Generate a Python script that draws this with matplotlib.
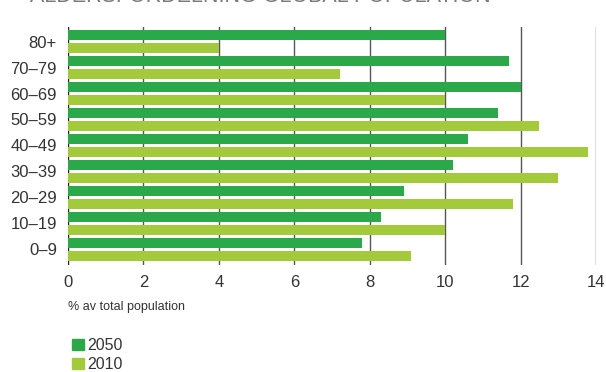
import numpy as np
import matplotlib
matplotlib.use("Agg")
import matplotlib.pyplot as plt
from matplotlib.patches import Patch

# Age groups, bottom to top
age_groups = ["0\u20139", "10\u201319", "20\u201329", "30\u201339", "40\u201349",
              "50\u201359", "60\u201369", "70\u201379", "80+"]
share_2050 = [7.8, 8.3, 8.9, 10.2, 10.6, 11.4, 12.0, 11.7, 10.0]
share_2010 = [9.1, 10.0, 11.8, 13.0, 13.8, 12.5, 10.0, 7.2, 4.0]
x_ticks = [0, 2, 4, 6, 8, 10, 12, 14]

title = "ÅLDERSFÖRDELNING GLOBAL POPULATION"
xlabel = "% av total population"

dark_green = "#2ba84a"
light_green = "#a3ca3a"
text_color = "#333333"

plt.rcParams["font.family"] = ["Liberation Sans", "DejaVu Sans"]

fig = plt.figure(figsize=(6.06, 3.72), dpi=100)
W, H = 606, 372
ax = fig.add_axes([68 / W, 1 - 265 / H, 528 / W, 238 / H])

y = np.arange(len(age_groups))
h = 0.385
ax.barh(y + 0.245, share_2050, height=h, color=dark_green, zorder=3)
ax.barh(y - 0.245, share_2010, height=h, color=light_green, zorder=3)

ax.set_xlim(0, 14)
ax.set_ylim(-0.6, 8.56)
for t in x_ticks:
    ax.axvline(t, color="#555555" if t else "#222222", lw=1.0, zorder=1)

for s in ax.spines.values():
    s.set_visible(False)

ax.set_yticks(y)
ax.set_yticklabels(age_groups)
ax.set_xticks(x_ticks)
ax.tick_params(axis="both", length=0, labelsize=12, colors=text_color)
ax.tick_params(axis="y", pad=8)
ax.tick_params(axis="x", pad=7)

fig.text(68 / W, 1 - 307 / H, xlabel, fontsize=9, color=text_color,
         ha="left", va="center")

# title sits mostly above the canvas, as in the source
fig.text(30 / W, 1 + 3 / H, title, fontsize=15.5, color="#7a7a7a",
         ha="left", va="center")

handles = [Patch(color=dark_green, label="2050"),
           Patch(color=light_green, label="2010")]
fig.legend(handles=handles, loc="upper left", bbox_to_anchor=(64 / W, 1 - 330 / H),
           frameon=False, fontsize=11.5, handlelength=0.75, handleheight=0.75,
           handletextpad=0.2, labelspacing=0.25, borderpad=0, labelcolor=text_color)

fig.savefig("out.png", dpi=100)
